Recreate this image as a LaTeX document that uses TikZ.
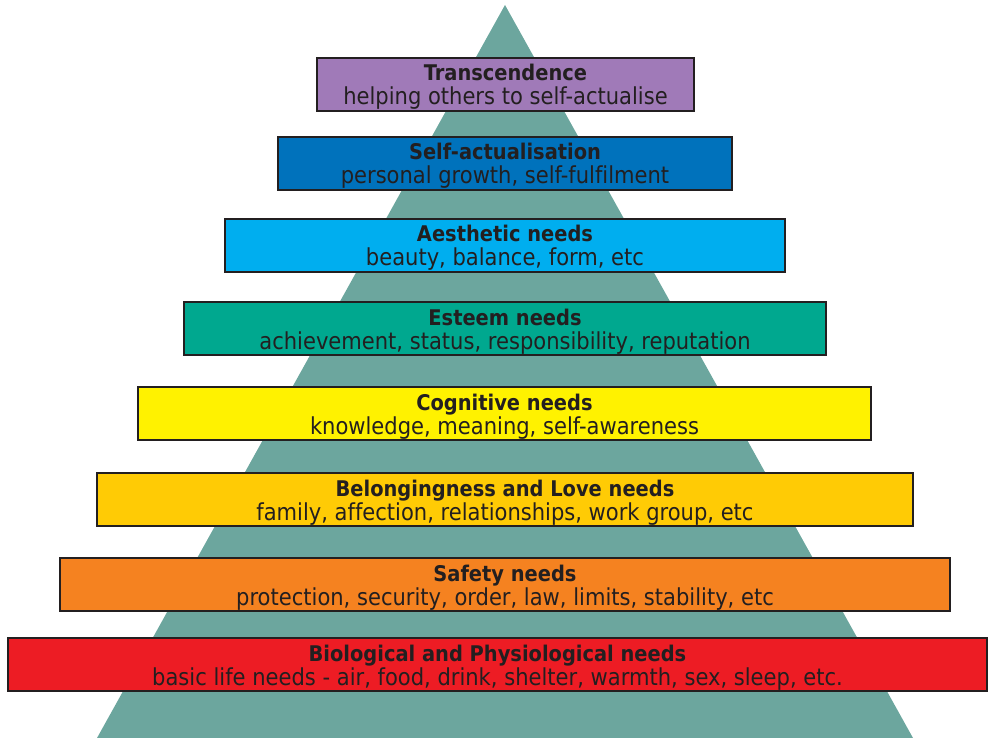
\documentclass[tikz,border=0pt]{standalone}
\usepackage{fontspec}
\setmainfont[Ligatures=NoCommon]{DejaVu Sans Condensed}
\usepackage{xcolor}
\usepackage{tikz}
\usetikzlibrary{positioning}

\definecolor{pyramid}{RGB}{108,166,158}
\definecolor{edge}{RGB}{35,31,32}
\definecolor{lvltrans}{RGB}{160,122,184}
\definecolor{lvlself}{RGB}{0,114,188}
\definecolor{lvlaesth}{RGB}{0,174,239}
\definecolor{lvlesteem}{RGB}{0,168,143}
\definecolor{lvlcogn}{RGB}{255,242,0}
\definecolor{lvlbelong}{RGB}{255,203,5}
\definecolor{lvlsafety}{RGB}{245,130,32}
\definecolor{lvlbio}{RGB}{237,28,36}

% title line and description line of one level
\newcommand{\needs}[2]{\rule{0pt}{23pt}{\fontsize{21.6}{24}\selectfont\bfseries #1}\\#2\rule[-6pt]{0pt}{6pt}}

\begin{document}
\begin{tikzpicture}[
  x=1pt, y=-1pt,
  level/.style={rectangle, draw=edge, line width=2pt, minimum height=53pt, inner sep=0pt, align=center, text=edge, font=\fontsize{23.4}{24}\selectfont},
  trans/.style={level, fill=lvltrans},
  selfact/.style={level, fill=lvlself},
  aesth/.style={level, fill=lvlaesth},
  esteem/.style={level, fill=lvlesteem},
  cogn/.style={level, fill=lvlcogn},
  belong/.style={level, fill=lvlbelong},
  safety/.style={level, fill=lvlsafety},
  bio/.style={level, fill=lvlbio}
]
\useasboundingbox (0,0) rectangle (989,738);

% Pyramid behind the levels
\coordinate (apex) at (505,5);
\coordinate (baseL) at (97,738);
\coordinate (baseR) at (913,738);
\fill[pyramid] (apex) -- (baseR) -- (baseL) -- cycle;

% Levels, top to bottom
\node[trans, minimum width=377pt] (transcend) at (505.5,84.5) {\needs{Transcendence}{helping others to self-actualise}};
\node[selfact, minimum width=454pt] (selfactual) at (505,163.5) {\needs{Self-actualisation}{personal growth, self-fulfilment}};
\node[aesth, minimum width=560pt] (aesthetic) at (505,245.5) {\needs{Aesthetic needs}{beauty, balance, form, etc}};
\node[esteem, minimum width=642pt] (esteemlvl) at (505,328.5) {\needs{Esteem needs}{achievement, status, responsibility, reputation}};
\node[cogn, minimum width=733pt] (cognitive) at (504.5,413.5) {\needs{Cognitive needs}{knowledge, meaning, self-awareness}};
\node[belong, minimum width=816pt] (belonging) at (505,499.5) {\needs{Belongingness and Love needs}{family, affection, relationships, work group, etc}};
\node[safety, minimum width=890pt] (safetylvl) at (505,584.5) {\needs{Safety needs}{protection, security, order, law, limits, stability, etc}};
\node[bio, minimum width=979pt] (biological) at (497.5,664.5) {\needs{Biological and Physiological needs}{basic life needs - air, food, drink, shelter, warmth, sex, sleep, etc.}};

\end{tikzpicture}
\end{document}
